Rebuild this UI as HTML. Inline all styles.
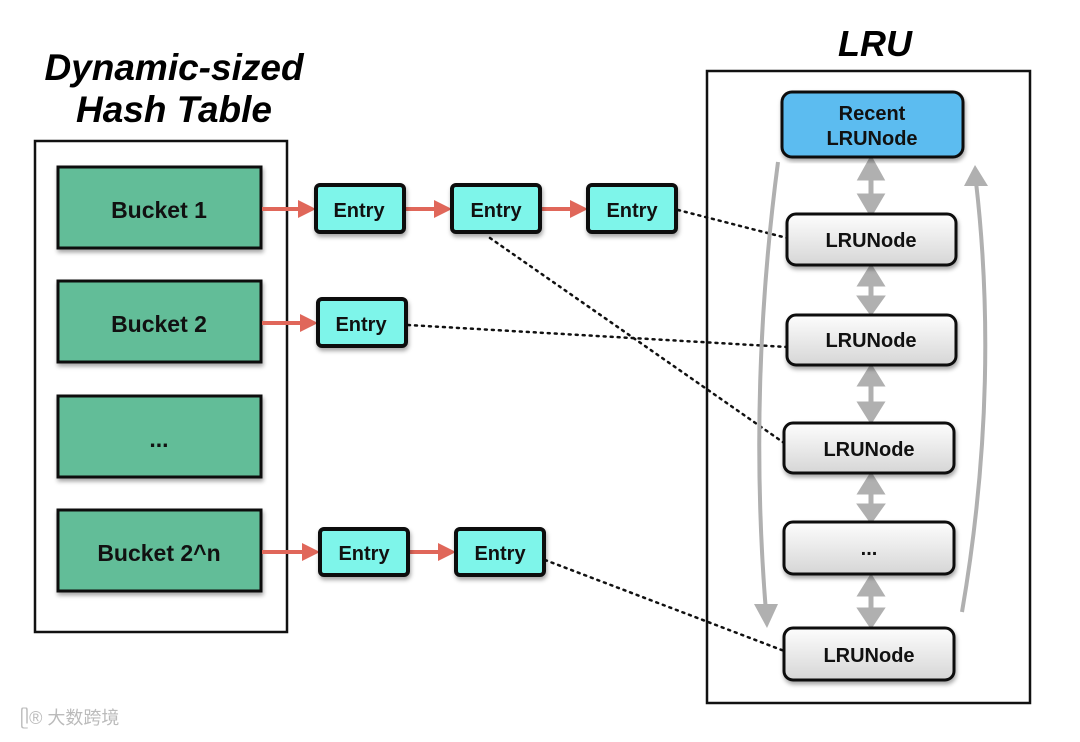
<!DOCTYPE html>
<html><head><meta charset="utf-8"><style>
body{margin:0;width:1080px;height:737px;background:#fff;overflow:hidden;font-family:"Liberation Sans",sans-serif;}
</style></head><body>
<svg width="1080" height="737" viewBox="0 0 1080 737" xmlns="http://www.w3.org/2000/svg" font-family="Liberation Sans, sans-serif" font-weight="bold">
<defs>
<linearGradient id="g" x1="0" y1="0" x2="0" y2="1"><stop offset="0" stop-color="#fdfdfd"/><stop offset="1" stop-color="#d6d6d6"/></linearGradient>
<filter id="s"><feDropShadow dx="1" dy="3" stdDeviation="2" flood-opacity="0.35"/></filter>
</defs>
<text x="174" y="80" font-size="37" font-style="italic" text-anchor="middle">Dynamic-sized</text>
<text x="174" y="122" font-size="37" font-style="italic" text-anchor="middle">Hash Table</text>
<text x="875" y="56" font-size="36" font-style="italic" text-anchor="middle">LRU</text>
<rect x="35" y="141" width="252" height="491" fill="none" stroke="#111" stroke-width="2.5"/>
<rect x="707" y="71" width="323" height="632" fill="none" stroke="#111" stroke-width="2.5"/>
<g stroke="#111" stroke-width="3" fill="#62bd98" filter="url(#s)">
<rect x="58" y="167" width="203" height="81"/><rect x="58" y="281" width="203" height="81"/>
<rect x="58" y="396" width="203" height="81"/><rect x="58" y="510" width="203" height="81"/>
</g>
<g font-size="23" text-anchor="middle" fill="#111">
<text x="159" y="218">Bucket 1</text><text x="159" y="332">Bucket 2</text>
<text x="159" y="447">...</text><text x="159" y="561">Bucket 2^n</text>
</g>
<g stroke="#111" stroke-dasharray="2 5" stroke-width="2.5" stroke-linecap="round" fill="none">
<line x1="678" y1="210" x2="787" y2="238"/><line x1="408" y1="325" x2="787" y2="347"/>
<line x1="490" y1="238" x2="787" y2="445"/><line x1="545" y1="560" x2="787" y2="652"/>
</g>
<g stroke="#e0675a" stroke-width="4" fill="#e0675a">
<line x1="262" y1="209" x2="300" y2="209"/><polygon points="298,200 316,209 298,218" stroke="none"/>
<line x1="405" y1="209" x2="436" y2="209"/><polygon points="434,200 452,209 434,218" stroke="none"/>
<line x1="541" y1="209" x2="572" y2="209"/><polygon points="570,200 588,209 570,218" stroke="none"/>
<line x1="262" y1="323" x2="302" y2="323"/><polygon points="300,314 318,323 300,332" stroke="none"/>
<line x1="262" y1="552" x2="304" y2="552"/><polygon points="302,543 320,552 302,561" stroke="none"/>
<line x1="409" y1="552" x2="440" y2="552"/><polygon points="438,543 456,552 438,561" stroke="none"/>
</g>
<g stroke="#111" stroke-width="4" fill="#7ef5ea" filter="url(#s)">
<rect x="316" y="185" width="88" height="47" rx="4"/><rect x="452" y="185" width="88" height="47" rx="4"/>
<rect x="588" y="185" width="88" height="47" rx="4"/><rect x="318" y="299" width="88" height="47" rx="4"/>
<rect x="320" y="529" width="88" height="46" rx="4"/><rect x="456" y="529" width="88" height="46" rx="4"/>
</g>
<g font-size="20" text-anchor="middle" fill="#111">
<text x="359" y="217">Entry</text><text x="496" y="217">Entry</text><text x="632" y="217">Entry</text>
<text x="361" y="331">Entry</text><text x="364" y="560">Entry</text><text x="500" y="560">Entry</text>
</g>
<g stroke="#b0b0b0" stroke-width="4" fill="none">
<path d="M778 162 Q748 390 766 612"/><path d="M962 612 Q1000 390 976 182"/>
</g>
<g fill="#b0b0b0">
<polygon points="754,604 767,628 778,604"/><polygon points="964,186 975,165 988,186"/>
</g>
<g fill="#b0b0b0" stroke="#b0b0b0" stroke-width="5">
<line x1="871" y1="172" x2="871" y2="200"/><polygon points="861,178 871,160 881,178"/><polygon points="861,196 871,213 881,196"/>
<line x1="871" y1="280" x2="871" y2="300"/><polygon points="861,284 871,268 881,284"/><polygon points="861,298 871,312 881,298"/>
<line x1="871" y1="380" x2="871" y2="408"/><polygon points="861,384 871,368 881,384"/><polygon points="861,404 871,420 881,404"/>
<line x1="871" y1="488" x2="871" y2="508"/><polygon points="861,492 871,476 881,492"/><polygon points="861,506 871,520 881,506"/>
<line x1="871" y1="590" x2="871" y2="614"/><polygon points="861,594 871,578 881,594"/><polygon points="861,610 871,625 881,610"/>
</g>
<rect x="782" y="92" width="181" height="65" rx="10" fill="#5bbcf0" stroke="#111" stroke-width="3" filter="url(#s)"/>
<g stroke="#111" stroke-width="3" fill="url(#g)" filter="url(#s)">
<rect x="787" y="214" width="169" height="51" rx="9"/><rect x="787" y="315" width="169" height="50" rx="9"/>
<rect x="784" y="423" width="170" height="50" rx="9"/><rect x="784" y="522" width="170" height="52" rx="9"/>
<rect x="784" y="628" width="170" height="52" rx="9"/>
</g>
<g font-size="20" text-anchor="middle" fill="#111">
<text x="872" y="120">Recent</text><text x="872" y="145">LRUNode</text>
<text x="871" y="247">LRUNode</text><text x="871" y="347">LRUNode</text><text x="869" y="456">LRUNode</text>
<text x="869" y="555">...</text><text x="869" y="662">LRUNode</text>
</g>
<text x="20" y="724" font-size="18" font-weight="normal" fill="#bbb" font-family="Liberation Sans, Noto Sans CJK SC, sans-serif">ᥫ® 大数跨境</text>
</svg>
</body></html>
